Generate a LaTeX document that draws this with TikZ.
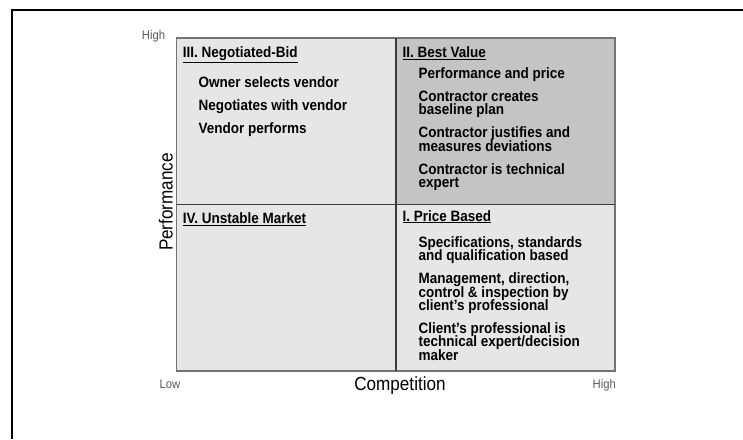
\documentclass[tikz,border=0pt]{standalone}
\usepackage{fontspec}
\setmainfont{Liberation Sans}[FakeStretch=0.9]
\usetikzlibrary{positioning}
\definecolor{cellgray}{HTML}{E6E6E6}
\definecolor{bestgray}{HTML}{C4C4C4}
\definecolor{gridline}{HTML}{3C3C3C}
\setlength{\lineskiplimit}{-20pt}

\begin{document}
\begin{tikzpicture}[x=1pt, y=-1pt,
 head/.style={anchor=base west, inner sep=0pt, font=\fontsize{15}{13.3}\selectfont\bfseries},
 item/.style={anchor=base west, inner sep=0pt, align=left, font=\fontsize{15}{13.3}\selectfont\bfseries},
 axis/.style={inner sep=0pt, font=\fontsize{19}{19}\selectfont},
 tick/.style={anchor=base west, inner sep=0pt, text=black!65, font=\fontsize{12.5}{12.5}\selectfont}]
 \useasboundingbox (0,0) rectangle (743,439);
 \draw[line width=2pt] (12,439) -- (12,10) -- (743,10);
 % the four quadrants
 \fill[cellgray] (176.5,38) rectangle (615,371);
 \fill[bestgray] (395.7,38) rectangle (615,204.5);
 \draw[black!55, line width=1.2pt] (176.5,38) rectangle (615,371);
 \draw[gridline, line width=1.8pt] (395.7,38) -- (395.7,371)
  (176.5,204.5) -- (615,204.5);
 % quadrant titles
 \node[head] (negbid) at (182.7,57.3) {\underline{III. Negotiated-Bid}};
 \node[head] (best) at (402.3,57.3) {\underline{II. Best Value}};
 \node[head] (unstable) at (182.7,223.3) {\underline{IV. Unstable Market}};
 \node[head] (price) at (402.3,221) {\underline{I. Price Based}};
 % quadrant lists (placed by the baseline of their last line)
 \node[item] (negbidlist) at (198.3,133.3)
  {Owner selects vendor\\[9.7pt]Negotiates with vendor\\[9.7pt]Vendor performs};
 \node[item] (bestlist) at (418.3,187.3)
  {Performance and price\\[9.7pt]Contractor creates\\baseline plan\\[9.7pt]%
  Contractor justifies and\\measures deviations\\[9.7pt]Contractor is technical\\expert};
 \node[item] (pricelist) at (418.3,360)
  {Specifications, standards\\and qualification based\\[9.7pt]%
  Management, direction,\\control \& inspection by\\client's professional\\[9.7pt]%
  Client's professional is\\technical expert/decision\\maker};
 % axes
 \node[axis, rotate=90, anchor=base] (perf) at (172.5,202) {Performance};
 \node[axis, anchor=base] (comp) at (400,390.5) {Competition};
 \node[tick] (perfhigh) at (141.7,39.5) {High};
 \node[tick] (complow) at (159.3,388.3) {Low};
 \node[tick, anchor=base east] (comphigh) at (616,388) {High};
\end{tikzpicture}
\end{document}
